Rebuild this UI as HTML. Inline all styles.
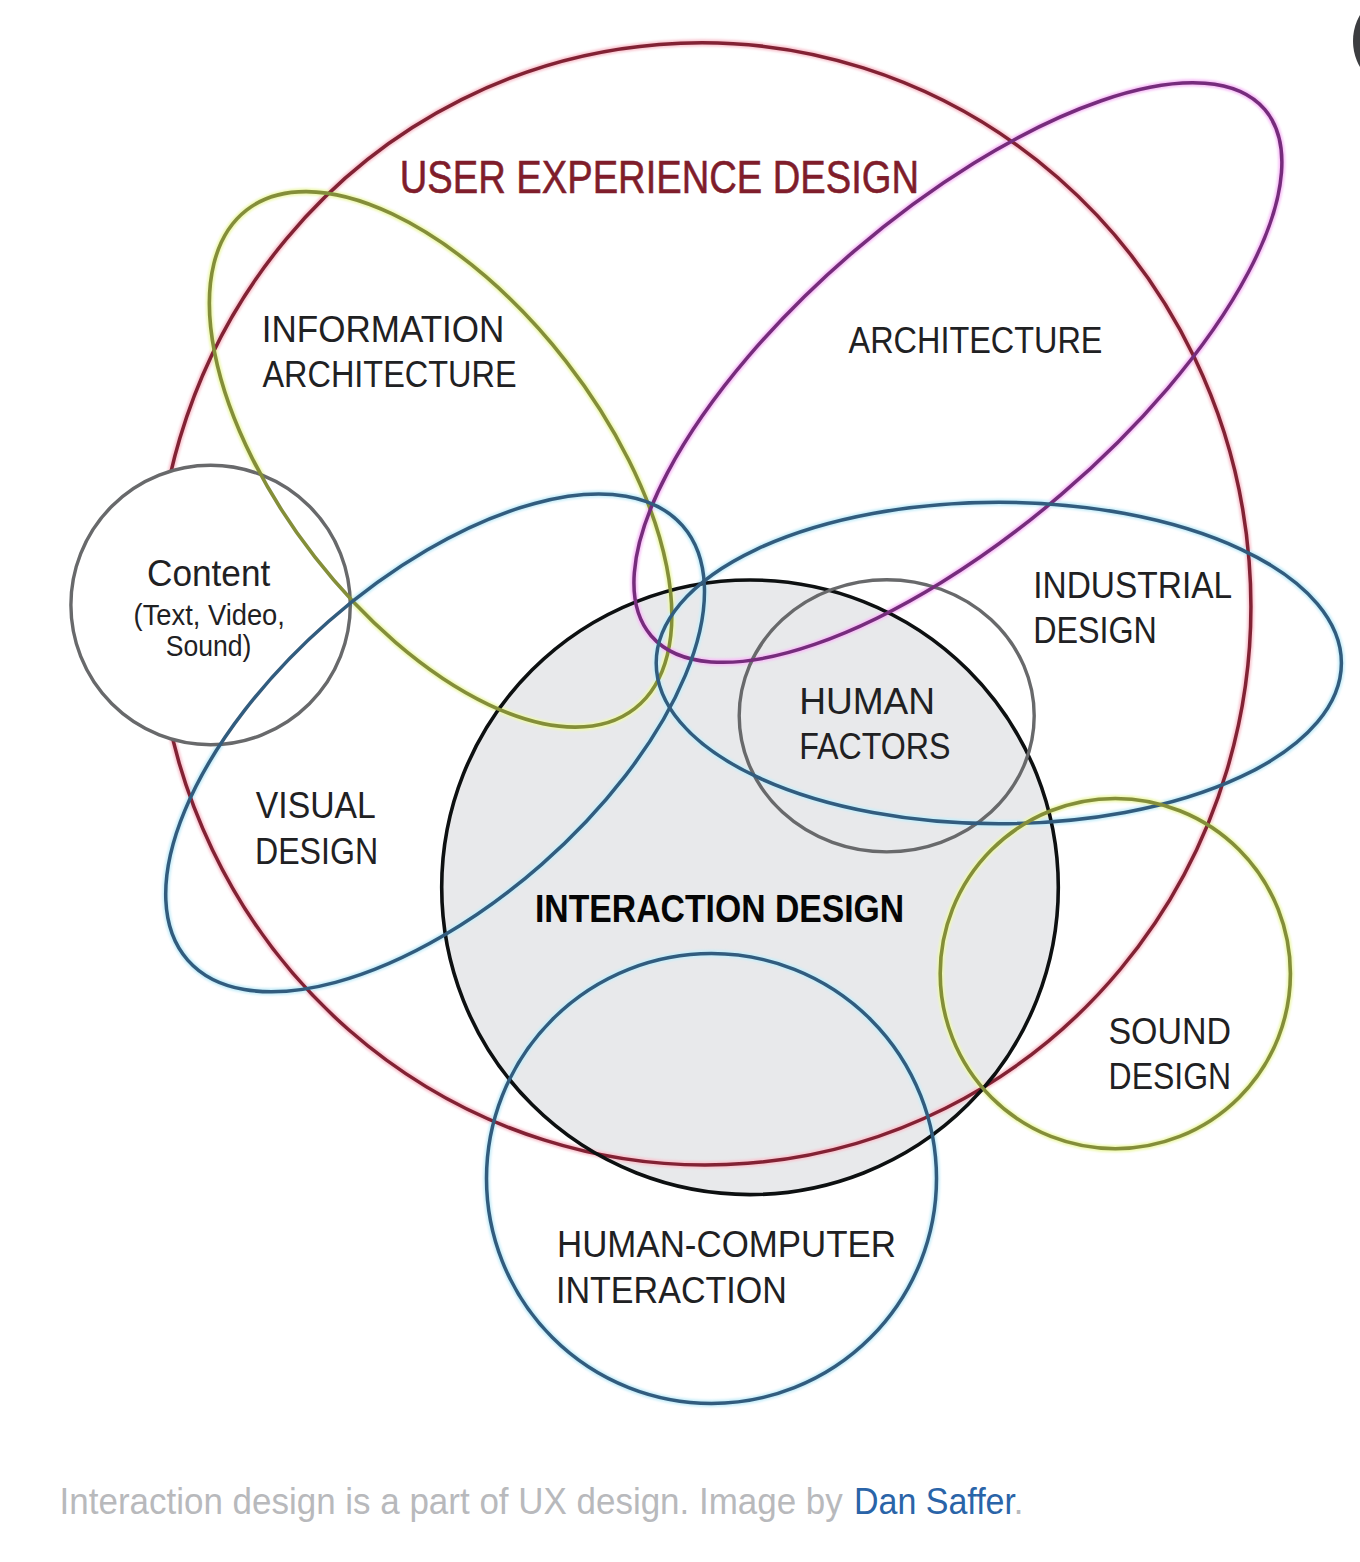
<!DOCTYPE html>
<html><head><meta charset="utf-8"><style>
html,body{margin:0;padding:0;background:#fff;overflow:hidden;}
svg{display:block;}
text{font-family:"Liberation Sans",sans-serif;}
</style></head><body>
<svg width="1360" height="1562" viewBox="0 0 1360 1562">
<defs><filter id="hb" x="-5%" y="-5%" width="110%" height="110%"><feGaussianBlur stdDeviation="1.3"/></filter></defs>
<rect width="1360" height="1562" fill="#ffffff"/>
<ellipse cx="750.0" cy="887.3" rx="308.3" ry="307.3" fill="#e8e9eb" stroke="none" stroke-width="0"/>
<g filter="url(#hb)">
<ellipse cx="703.5" cy="603.9" rx="547.3" ry="561.2" transform="rotate(-4.52 703.5 603.9)" fill="none" stroke="#f9c6d0" stroke-width="7"/>
<ellipse cx="440.6" cy="459.4" rx="315.9" ry="159.2" transform="rotate(52.09 440.6 459.4)" fill="none" stroke="#eef8b0" stroke-width="7"/>
<ellipse cx="957.9" cy="372.6" rx="159.8" ry="404.2" transform="rotate(49.38 957.9 372.6)" fill="none" stroke="#f8c0f8" stroke-width="7"/>
<ellipse cx="435.1" cy="742.9" rx="161.6" ry="329.2" transform="rotate(48.72 435.1 742.9)" fill="none" stroke="#c8eefa" stroke-width="7"/>
<ellipse cx="998.8" cy="663.0" rx="342.6" ry="160.8" fill="none" stroke="#c8eefa" stroke-width="7"/>
<ellipse cx="1115.3" cy="973.6" rx="175.1" ry="175.1" fill="none" stroke="#eef8b0" stroke-width="7"/>
<ellipse cx="711.5" cy="1178.5" rx="225.0" ry="225.0" fill="none" stroke="#c8eefa" stroke-width="7"/>
</g>
<ellipse cx="703.5" cy="603.9" rx="547.3" ry="561.2" transform="rotate(-4.52 703.5 603.9)" fill="none" stroke="#822234" stroke-width="3.5"/>
<ellipse cx="210.6" cy="605.0" rx="139.7" ry="139.7" fill="#ffffff" stroke="none" stroke-width="0"/>
<ellipse cx="210.6" cy="605.0" rx="139.7" ry="139.7" fill="none" stroke="#68696b" stroke-width="3.4"/>
<ellipse cx="750.0" cy="887.3" rx="308.3" ry="307.3" fill="none" stroke="#0d1011" stroke-width="3.6"/>
<ellipse cx="886.7" cy="715.8" rx="147.5" ry="136.1" fill="none" stroke="#68696b" stroke-width="3.4"/>
<ellipse cx="440.6" cy="459.4" rx="315.9" ry="159.2" transform="rotate(52.09 440.6 459.4)" fill="none" stroke="#848e3a" stroke-width="3.6"/>
<ellipse cx="957.9" cy="372.6" rx="159.8" ry="404.2" transform="rotate(49.38 957.9 372.6)" fill="none" stroke="#762c7c" stroke-width="3.5"/>
<ellipse cx="435.1" cy="742.9" rx="161.6" ry="329.2" transform="rotate(48.72 435.1 742.9)" fill="none" stroke="#325c7e" stroke-width="3.5"/>
<ellipse cx="998.8" cy="663.0" rx="342.6" ry="160.8" fill="none" stroke="#325c7e" stroke-width="3.5"/>
<ellipse cx="1115.3" cy="973.6" rx="175.1" ry="175.1" fill="none" stroke="#848e3a" stroke-width="3.6"/>
<ellipse cx="711.5" cy="1178.5" rx="225.0" ry="225.0" fill="none" stroke="#325c7e" stroke-width="3.5"/>
<circle cx="1405" cy="41" r="52" fill="#3c3d40"/>
<text x="399.8" y="193.0" font-size="46.0" font-weight="normal" textLength="519.23" lengthAdjust="spacingAndGlyphs" fill="#7f1d2b" stroke="#7f1d2b" stroke-width="0.6">USER EXPERIENCE DESIGN</text>
<text x="261.8" y="341.6" font-size="37.5" font-weight="normal" textLength="242.48" lengthAdjust="spacingAndGlyphs" fill="#1f2123">INFORMATION</text>
<text x="262.4" y="386.6" font-size="37.5" font-weight="normal" textLength="254.21" lengthAdjust="spacingAndGlyphs" fill="#1f2123">ARCHITECTURE</text>
<text x="848.6" y="352.8" font-size="37.5" font-weight="normal" textLength="253.8" lengthAdjust="spacingAndGlyphs" fill="#1f2123">ARCHITECTURE</text>
<text x="147.0" y="586.0" font-size="36.5" font-weight="normal" textLength="123.22" lengthAdjust="spacingAndGlyphs" fill="#1f2123">Content</text>
<text x="133.6" y="624.6" font-size="28.6" font-weight="normal" textLength="151.25" lengthAdjust="spacingAndGlyphs" fill="#1f2123">(Text, Video,</text>
<text x="165.8" y="656.4" font-size="28.6" font-weight="normal" textLength="85.62" lengthAdjust="spacingAndGlyphs" fill="#1f2123">Sound)</text>
<text x="1033.2" y="598.1" font-size="37.5" font-weight="normal" textLength="199.03" lengthAdjust="spacingAndGlyphs" fill="#1f2123">INDUSTRIAL</text>
<text x="1033.2" y="643.0" font-size="37.5" font-weight="normal" textLength="123.7" lengthAdjust="spacingAndGlyphs" fill="#1f2123">DESIGN</text>
<text x="799.2" y="713.7" font-size="37.5" font-weight="normal" textLength="135.9" lengthAdjust="spacingAndGlyphs" fill="#1f2123">HUMAN</text>
<text x="799.2" y="758.7" font-size="37.5" font-weight="normal" textLength="151.25" lengthAdjust="spacingAndGlyphs" fill="#1f2123">FACTORS</text>
<text x="255.8" y="818.2" font-size="37.5" font-weight="normal" textLength="120.01" lengthAdjust="spacingAndGlyphs" fill="#1f2123">VISUAL</text>
<text x="255.0" y="863.5" font-size="37.5" font-weight="normal" textLength="123.11" lengthAdjust="spacingAndGlyphs" fill="#1f2123">DESIGN</text>
<text x="1108.4" y="1043.8" font-size="37.5" font-weight="normal" textLength="122.65" lengthAdjust="spacingAndGlyphs" fill="#1f2123">SOUND</text>
<text x="1108.6" y="1088.5" font-size="37.5" font-weight="normal" textLength="122.48" lengthAdjust="spacingAndGlyphs" fill="#1f2123">DESIGN</text>
<text x="557.0" y="1257.2" font-size="37.5" font-weight="normal" textLength="339.02" lengthAdjust="spacingAndGlyphs" fill="#1f2123">HUMAN-COMPUTER</text>
<text x="556.0" y="1302.6" font-size="37.5" font-weight="normal" textLength="230.89" lengthAdjust="spacingAndGlyphs" fill="#1f2123">INTERACTION</text>
<text x="535.0" y="922.2" font-size="38.0" font-weight="bold" textLength="369.22" lengthAdjust="spacingAndGlyphs" fill="#050505">INTERACTION DESIGN</text>
<text x="59.6" y="1514.2" font-size="36.3" font-weight="normal" textLength="783.21" lengthAdjust="spacingAndGlyphs" fill="#b8b9bc">Interaction design is a part of UX design. Image by</text>
<text x="854.0" y="1514.2" font-size="36.3" font-weight="normal" textLength="161.83" lengthAdjust="spacingAndGlyphs" fill="#2a64a8">Dan Saffer</text>
<text x="1013.5" y="1514.2" font-size="36.3" fill="#b8b9bc">.</text>
</svg>
</body></html>
